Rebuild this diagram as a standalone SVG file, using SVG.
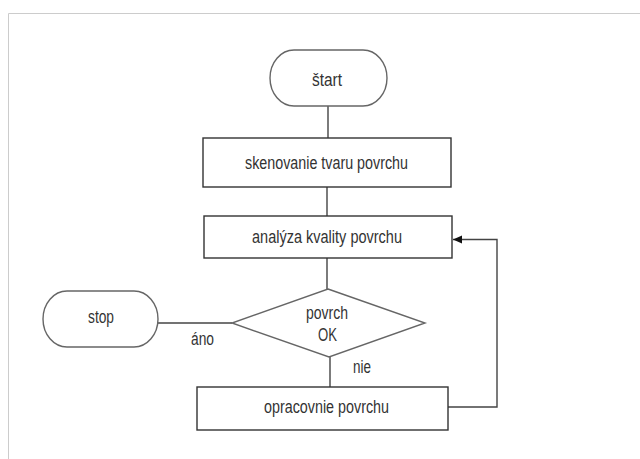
<svg xmlns="http://www.w3.org/2000/svg" width="640" height="459" viewBox="0 0 640 459">
<style>
.n{fill:#fff;stroke:#333;stroke-width:1.4}
.d{fill:#fff;stroke:#666;stroke-width:1.4}
.c{fill:none;stroke:#444;stroke-width:1.4}
.t{font-family:"Liberation Sans",Arial,sans-serif;font-size:17.5px;fill:#333}
</style>
<defs>
<marker id="ah" markerWidth="10" markerHeight="10" refX="9" refY="5" orient="auto" markerUnits="userSpaceOnUse">
<path d="M0,1 L9,5 L0,9 Z" fill="#111"/>
</marker>
</defs>
<rect width="640" height="459" fill="#fff"/>
<path d="M8.5,459 V13.5 H640" fill="none" stroke="#ccc" stroke-width="1"/>
<g id="connectors">
<line class="c" x1="328" y1="106" x2="328" y2="138"/>
<line class="c" x1="327" y1="187" x2="327" y2="216"/>
<line class="c" x1="327" y1="258" x2="327" y2="289" stroke="#888"/>
<line class="c" x1="158" y1="323" x2="232" y2="323"/>
<line class="c" x1="330" y1="357" x2="330" y2="387"/>
<path class="c" d="M448,407 H497 V239.5 H453" stroke="#111" marker-end="url(#ah)"/>
<text class="t" x="191" y="345" textLength="23" lengthAdjust="spacingAndGlyphs">áno</text>
<text class="t" x="353" y="373" textLength="18" lengthAdjust="spacingAndGlyphs">nie</text>
</g>
<g id="start">
<rect class="d" x="270" y="50" width="117" height="56" rx="24" ry="28"/>
<text class="t" x="312" y="86" textLength="30" lengthAdjust="spacingAndGlyphs">štart</text>
</g>
<g id="scan">
<rect class="n" x="203" y="138" width="248" height="49"/>
<text class="t" x="245" y="169" textLength="163" lengthAdjust="spacingAndGlyphs">skenovanie tvaru povrchu</text>
</g>
<g id="analysis">
<rect class="n" x="204" y="216" width="248" height="42"/>
<text class="t" x="252" y="243" textLength="150" lengthAdjust="spacingAndGlyphs">analýza kvality povrchu</text>
</g>
<g id="decision">
<polygon class="d" points="328,289 425,323 329,357 232,323"/>
<text class="t" x="306" y="319" textLength="42" lengthAdjust="spacingAndGlyphs">povrch</text>
<text class="t" x="318" y="341" textLength="19" lengthAdjust="spacingAndGlyphs">OK</text>
</g>
<g id="stop">
<rect class="d" x="43" y="291" width="115" height="56" rx="24" ry="28"/>
<text class="t" x="88" y="323" textLength="26" lengthAdjust="spacingAndGlyphs">stop</text>
</g>
<g id="process">
<rect class="n" x="197" y="387" width="251" height="43"/>
<text class="t" x="264" y="413" textLength="125" lengthAdjust="spacingAndGlyphs">opracovnie povrchu</text>
</g>
</svg>
